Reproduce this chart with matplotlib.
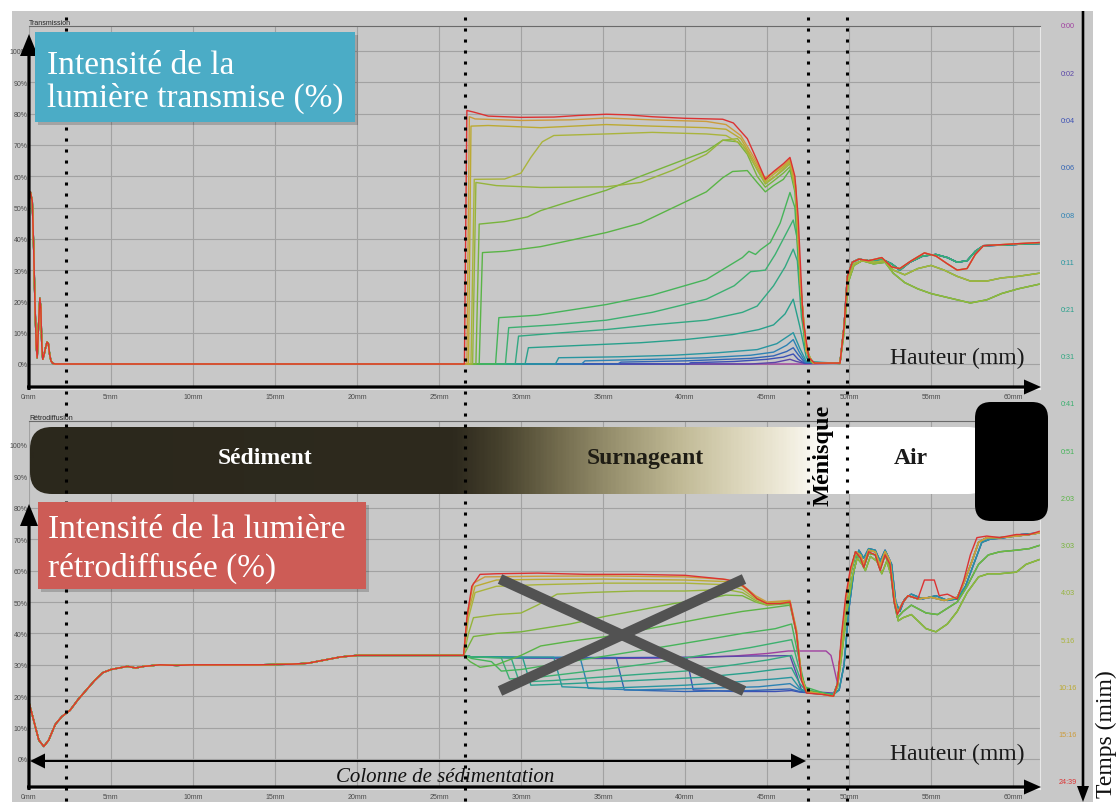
import numpy as np
import matplotlib
matplotlib.use("Agg")
import matplotlib.pyplot as plt
from matplotlib.patches import Rectangle, FancyBboxPatch, FancyArrow
from matplotlib.colors import LinearSegmentedColormap
from matplotlib.transforms import blended_transform_factory

plt.rcParams['font.family'] = ['Liberation Sans', 'DejaVu Sans']
SERIF = ['Liberation Serif', 'DejaVu Serif']

# ---------------- data ----------------
times = ["0:00", "0:02", "0:04", "0:06", "0:08", "0:11", "0:21", "0:31", "0:41",
         "0:51", "2:03", "3:03", "4:03", "5:16", "10:16", "15:16", "24:39"]
time_colors = ["#a040a0", "#5a46a8", "#3c50b4", "#3264b4", "#2d82b4", "#2896a0",
               "#28a08c", "#32a882", "#3cb070", "#46b45a", "#5ab446", "#78b43c",
               "#96b43c", "#aab43c", "#bcaa32", "#cc9c3c", "#dc3232"]
x_ticks_mm = list(range(0, 61, 5))
y_ticks_pct = list(range(0, 101, 10))
dotted_mm = [2.26, 26.59, 47.5, 49.88]

# Transmission (%) vs height (mm)
trans_left = [(0.0, 55), (0.08, 55), (0.2, 52), (0.28, 38), (0.36, 20), (0.44, 6), (0.5, 2),
              (0.58, 12), (0.66, 21), (0.72, 18), (0.78, 6), (0.84, 1.5), (0.92, 3), (1.0, 5),
              (1.1, 7), (1.18, 6.5), (1.26, 3), (1.34, 1), (1.45, 0.2), (1.6, 0), (26.55, 0)]

trans_mid = [
    [(26.55, 0), (47.5, 0), (49.45, 0.3)],
    [(26.55, 0), (44, 0), (45.5, 0.5), (46.4, 1.5), (46.8, 0.8), (47.3, 0.2), (49.45, 0.3)],
    [(26.55, 0), (40.2, 0), (40.35, 0.4), (43, 0.8), (45, 1.5), (46.0, 2.2), (46.6, 3.2), (46.9, 1.5), (47.3, 0.2), (49.45, 0.2)],
    [(26.55, 0), (35.9, 0), (36.1, 0.6), (40, 1.0), (44, 1.8), (45.4, 2.6), (46.2, 4), (46.6, 5.2), (46.9, 3), (47.3, 0.5), (49.45, 0.2)],
    [(26.55, 0), (33.7, 0), (33.9, 1.0), (38, 1.5), (41.3, 2.0), (44, 2.8), (45.4, 3.8), (46.2, 6), (46.6, 7.8), (46.95, 4), (47.35, 0.6), (49.45, 0.2)],
    [(26.55, 0), (32.1, 0), (32.3, 2.0), (36, 2.3), (39.3, 2.8), (42, 3.6), (44.4, 4.6), (45.6, 6.5), (46.6, 10), (47.0, 5), (47.4, 0.8), (49.45, 0.2)],
    [(26.55, 0), (30.25, 0), (30.45, 5.2), (33, 5.8), (37.3, 6.8), (40, 7.8), (42.9, 9.4), (44.5, 11), (45.4, 12.5), (46.1, 16), (46.6, 20.7), (47.0, 12), (47.4, 2), (47.8, 0.3), (49.45, 0.2)],
    [(26.55, 0), (29.65, 0), (29.85, 8.9), (32, 9.8), (35.2, 11), (38, 12.5), (41.3, 14), (43.5, 16.5), (44.4, 18.5), (45.4, 25), (46.1, 31), (46.6, 36.7), (46.85, 33), (47.1, 15), (47.5, 2), (47.9, 0.3), (49.45, 0.2)],
    [(26.55, 0), (29.05, 0), (29.25, 11.6), (32, 12.5), (35.2, 14), (38, 16.5), (41.3, 20.7), (43, 25), (44.0, 29.5), (44.4, 29.7), (44.9, 30), (45.5, 35), (46.1, 41), (46.6, 46), (46.85, 40), (47.1, 18), (47.5, 2.5), (47.9, 0.3), (49.45, 0.2)],
    [(26.55, 0), (28.45, 0), (28.65, 14.8), (31, 15.6), (35.2, 19), (38, 22), (41.3, 27), (43.5, 34), (43.9, 36), (44.3, 35), (44.6, 36.5), (45.2, 38.8), (45.8, 45), (46.4, 54.8), (46.7, 50), (47.0, 25), (47.3, 6), (47.7, 0.5), (49.45, 0.2)],
    [(26.55, 0), (27.45, 0), (27.65, 35.6), (29, 36), (31.2, 37.5), (33, 39.5), (35.2, 42), (37.3, 45), (39.3, 50), (41.3, 55), (42.3, 59.5), (42.9, 61.5), (43.8, 61.8), (44.4, 58), (44.9, 55), (45.4, 57), (46.0, 59), (46.4, 62), (46.7, 55), (47.0, 30), (47.3, 8), (47.7, 0.5), (49.45, 0.2)],
    [(26.55, 0), (27.25, 0), (27.45, 44.7), (29, 45.5), (30.4, 47), (31.2, 49), (33, 52), (35.2, 55.5), (37.3, 60), (39.3, 64), (41.3, 68), (42.3, 71.5), (43.2, 71), (43.8, 67), (44.4, 60), (44.9, 56.5), (45.4, 58.5), (46.0, 61), (46.4, 63), (46.75, 55), (47.05, 25), (47.4, 4), (47.8, 0.4), (49.45, 0.2)],
    [(26.55, 0), (27.05, 0), (27.25, 58), (28.5, 57), (31.2, 56.4), (35.2, 56.6), (37.3, 58), (39.3, 62), (41.3, 67), (42.3, 71.5), (43.2, 72), (43.8, 68), (44.4, 62), (44.9, 57.5), (45.4, 59.5), (46.0, 62), (46.4, 64), (46.75, 55), (47.05, 25), (47.4, 4), (47.8, 0.4), (49.45, 0.2)],
    [(26.55, 0), (26.95, 0), (27.15, 59), (29, 59.1), (30.0, 61), (30.6, 66), (31.3, 71), (32, 73), (35.2, 73.5), (38, 74), (41.3, 73.5), (42.5, 73), (43.5, 70), (44.2, 64), (44.9, 58), (45.5, 60), (46.0, 62.5), (46.4, 64.5), (46.75, 55), (47.05, 25), (47.4, 4), (47.8, 0.4), (49.45, 0.2)],
    [(26.55, 0), (26.8, 0), (26.95, 76), (28, 76.2), (31.2, 75.5), (35.2, 76.5), (38, 76), (41.3, 75.5), (42.5, 75), (43.4, 72), (44.2, 65), (44.9, 58.5), (45.5, 61), (46.0, 63), (46.4, 65), (46.75, 56), (47.05, 25), (47.4, 4), (47.8, 0.4), (49.45, 0.2)],
    [(26.55, 0), (26.7, 0), (26.85, 79), (27.2, 78.3), (30, 77.8), (33, 78), (35.2, 78.6), (38, 78), (41.3, 77.5), (42.5, 76.5), (43.4, 73), (44.2, 66), (44.85, 59.5), (45.5, 61.5), (46.0, 63.5), (46.4, 65.5), (46.75, 57), (47.05, 25), (47.4, 4), (47.8, 0.4), (49.45, 0.2)],
    [(26.55, 0), (26.7, 81), (27.1, 80.5), (28, 79.2), (30, 78.8), (32, 78.9), (33.5, 79.4), (35.2, 79.8), (36.5, 79.6), (38, 79.0), (40, 78.5), (42.3, 78.2), (42.95, 77), (43.8, 72), (44.4, 65), (44.9, 59), (45.4, 61.5), (46.0, 64), (46.4, 66), (46.7, 60), (46.9, 47), (47.2, 14), (47.55, 2), (47.9, 0.3), (49.45, 0.3)],
]

trans_tail_high = [(49.45, 0.3), (49.7, 12), (49.9, 28), (50.2, 32.5), (50.6, 33.5), (51.2, 33), (52, 33.5), (52.6, 32), (53.1, 30), (53.7, 32.5), (54.5, 34.5), (55.3, 35), (56.0, 34), (56.6, 32.5), (57.2, 33), (57.7, 36), (58.2, 37.8), (59.5, 38), (60.5, 38.3), (61.6, 38.5)]
trans_tail_dip = [(49.45, 0.3), (49.7, 12), (49.9, 28), (50.2, 32.5), (50.6, 33.5), (51.2, 33), (52, 34), (52.6, 31), (53.1, 30.5), (53.8, 33), (54.6, 35.5), (55.3, 34.5), (56.0, 32), (56.6, 30), (57.2, 30.5), (57.7, 35), (58.2, 37.8), (59.5, 38.2), (60.5, 38.5), (61.6, 38.8)]
trans_tail_mid = [(49.45, 0.3), (49.7, 12), (49.95, 27), (50.3, 32), (50.8, 33), (51.5, 32.5), (52.2, 33), (52.7, 30), (53.4, 28.5), (54.2, 30.5), (55, 31.5), (55.8, 30), (56.6, 28), (57.4, 26.5), (58.4, 26.5), (59.3, 27.5), (60.3, 28), (61.6, 29)]
trans_tail_low = [(49.45, 0.3), (49.7, 10), (49.95, 26), (50.3, 31.5), (50.8, 33), (51.5, 32), (52.2, 32.5), (52.7, 29), (53.4, 26), (54.2, 24), (55, 22.5), (55.8, 21.5), (56.6, 20.5), (57.4, 19.5), (58.4, 20.5), (59.3, 22.5), (60.3, 24), (61.6, 25.5)]
trans_tails = {"high": trans_tail_high, "dip": trans_tail_dip, "mid": trans_tail_mid, "low": trans_tail_low}
trans_tail_of = ["high", "high", "high", "high", "high", "high", "high", "mid", "high",
                 "low", "low", "mid", "low", "mid", "dip", "dip", "dip"]

# Backscattering (%) vs height (mm)
back_left = [(0, 18), (0.3, 12), (0.6, 6), (0.9, 4), (1.2, 6), (1.6, 11), (2.0, 13.5), (2.5, 15.5),
             (3.0, 19), (3.5, 22), (4.0, 25), (4.5, 27.5), (5.0, 28.5), (5.5, 29), (6, 29.5), (6.5, 29),
             (7, 29.5), (8, 30), (9, 29.8), (10, 30), (12, 30), (14, 30), (16, 30.2), (17, 30.5),
             (18, 31.5), (19, 32.5), (20, 33), (22, 33), (24, 33), (26.5, 33)]

back_mid = [
    [(26.5, 33), (27, 32.5), (30, 32.2), (35, 32), (40, 32.2), (43, 32.8), (45, 33.6), (46.3, 34.4), (48.6, 34.4), (48.9, 33), (49.1, 28.7)],
    [(26.5, 33), (27, 32.5), (30, 32.3), (35, 32.2), (40, 32.4), (44, 32.8), (46.4, 32.9), (46.8, 27), (47.1, 22), (47.6, 21.5), (49.05, 21)],
    [(26.5, 33), (27, 32.5), (30, 32.3), (35, 32.3), (40.1, 32.3), (40.5, 22), (43, 21.5), (45.5, 21.5), (46.5, 21.8), (47.0, 21.3), (49.05, 20.5)],
    [(26.5, 33), (27, 32.5), (30, 32.3), (35.8, 32.3), (36.3, 22), (40, 21.5), (44, 21.8), (46.4, 22.3), (47.0, 21.5), (49.05, 20.5)],
    [(26.5, 33), (27, 32.5), (30, 32.3), (33.6, 32.4), (34.1, 22.5), (37, 22), (41, 22.5), (44.5, 23), (46.4, 24), (47.0, 22), (49.05, 20.5)],
    [(26.5, 33), (27, 32.5), (32.0, 32.4), (32.5, 23), (35, 22.5), (40, 23.5), (43, 24.5), (45.5, 25.5), (46.5, 26), (47.0, 22.5), (47.5, 21), (49.05, 20.5)],
    [(26.5, 33), (27, 32.5), (30.1, 32.3), (30.6, 23.5), (33, 24), (37, 25), (41, 26), (44, 27.5), (45.5, 28.5), (46.5, 29), (47.0, 24), (47.5, 21), (49.05, 20.5)],
    [(26.5, 33), (27, 32.5), (29.4, 32.2), (29.9, 24.5), (32, 25), (36, 26.5), (40, 28), (43, 30), (45, 31.5), (46.5, 33), (47.0, 26), (47.5, 21), (49.05, 20.5)],
    [(26.5, 33), (27, 32.5), (28.8, 32.2), (29.3, 25.5), (31, 26), (35, 28.5), (38, 30.5), (41, 33), (44, 35.5), (45.5, 37), (46.5, 38), (46.9, 30), (47.4, 22), (49.05, 20.5)],
    [(26.5, 33), (27, 32), (28.2, 31), (28.8, 28), (30, 28.5), (33, 31), (36, 33.5), (39, 36), (41.3, 38), (43.5, 40), (45.5, 41.5), (46.5, 43), (46.9, 33), (47.3, 23), (49.05, 20)],
    [(26.5, 33), (26.9, 31), (27.5, 29.2), (28.5, 30), (30, 33), (31.2, 36), (33, 37.5), (35.2, 39), (37.3, 41), (39.3, 43), (41.3, 45), (43.5, 47), (45, 48), (46.4, 49), (46.8, 40), (47.1, 27), (47.4, 22), (49.05, 20)],
    [(26.5, 33), (26.8, 36), (27.1, 39), (28.5, 40), (30, 40.5), (31.2, 41.5), (33, 43), (35.2, 45.5), (37.3, 47.5), (39.3, 49.5), (41.3, 51), (42.5, 52.2), (43.5, 52), (44.3, 50), (45, 49), (46.4, 49.5), (46.8, 40), (47.1, 26), (47.4, 21.5), (49.05, 20)],
    [(26.5, 33), (26.8, 40), (27.1, 45), (28.5, 46), (30, 46.5), (31, 49), (32.2, 52.5), (34, 53), (37, 53.5), (40, 53.5), (42.5, 54), (43.5, 53), (44.3, 50.5), (45, 49), (46.4, 49.8), (46.8, 40), (47.1, 26), (47.4, 21.5), (49.05, 20)],
    [(26.5, 33), (26.8, 45), (27.2, 53), (28.5, 55), (31, 55.5), (35, 56), (40, 56), (42.5, 55.5), (43.5, 54), (44.3, 51), (45, 49.5), (46.4, 50), (46.8, 40), (47.1, 26), (47.4, 21.5), (49.05, 20)],
    [(26.5, 33), (26.8, 47), (27.2, 55), (28.5, 57), (31, 57.2), (35, 57.3), (40, 57), (42.5, 56.5), (43.5, 55), (44.3, 51.5), (45, 49.8), (46.4, 50.3), (46.8, 41), (47.1, 26), (47.4, 21.5), (49.05, 20)],
    [(26.5, 33), (26.75, 47), (27.1, 56), (27.8, 58), (31, 58.2), (35, 58.3), (40, 58), (42.5, 57.2), (43.5, 55.5), (44.3, 52), (45, 50), (46.4, 50.5), (46.8, 41), (47.1, 26), (47.4, 21.5), (49.05, 20)],
    [(26.5, 33), (26.7, 45), (27.0, 55), (27.5, 58.8), (28.5, 59), (31, 59.2), (34, 58.8), (37, 58.8), (40, 58.5), (42.3, 57.3), (43.2, 56.5), (43.8, 54), (44.4, 51), (45, 49.5), (45.8, 49.5), (46.4, 50), (46.8, 40), (47.1, 25), (47.4, 21), (48.5, 20.5), (49.05, 20)],
]

back_tail_high = [(49.3, 24), (49.55, 38), (49.8, 50), (50.1, 60), (50.4, 66), (50.7, 65), (50.9, 62), (51.2, 66.5), (51.6, 66), (51.9, 61.5), (52.2, 66), (52.5, 63), (52.75, 52), (52.95, 46.5), (53.3, 50), (53.6, 52), (54.2, 51), (55, 51.5), (55.8, 50.5), (56.6, 51.5), (57.0, 56), (57.5, 63), (57.9, 69), (58.4, 70.5), (59.2, 70.5), (60.2, 71), (61.0, 71.5), (61.6, 72)]
back_tail_late = [(49.4, 22), (49.7, 30), (50.0, 48), (50.3, 60), (50.6, 66.5), (50.9, 64), (51.2, 67), (51.6, 66.5), (51.9, 63), (52.2, 66.5), (52.6, 62), (52.85, 50), (53.1, 47), (53.4, 51), (53.8, 52.5), (54.5, 51), (55.3, 52), (56.0, 50.5), (56.6, 51), (57.1, 55), (57.6, 62), (58.1, 69), (58.6, 70), (59.5, 70.5), (60.5, 71.5), (61.6, 72)]
back_tail_red = [(49.3, 24), (49.55, 40), (49.8, 52), (50.1, 61), (50.4, 66), (50.7, 64), (50.9, 61), (51.2, 66), (51.6, 65), (51.9, 60), (52.2, 65), (52.5, 62), (52.75, 50), (52.95, 46), (53.3, 50), (53.6, 52), (54.2, 51), (54.6, 57), (55.2, 57), (55.5, 52), (56.0, 52.5), (56.6, 51), (57.0, 57), (57.4, 65), (57.8, 70.5), (58.4, 71), (59.2, 70.5), (60.2, 71.5), (61.0, 71.5), (61.6, 72.5)]
back_tail_mid = [(49.3, 24), (49.55, 37), (49.8, 49), (50.1, 59), (50.4, 65), (50.7, 64), (50.9, 61), (51.2, 65.5), (51.6, 65), (51.9, 60.5), (52.2, 65), (52.5, 61), (52.75, 50), (52.95, 45), (53.3, 47), (53.8, 49), (54.7, 46.5), (55.4, 46), (56.0, 48), (56.6, 50), (57.2, 55), (57.9, 62), (58.5, 65), (59.2, 66), (60.2, 66.5), (61.0, 67), (61.6, 68)]
back_tail_low = [(49.3, 23), (49.6, 35), (49.9, 48), (50.2, 58), (50.5, 64), (50.8, 62), (51.0, 60), (51.3, 64.5), (51.7, 63), (52.0, 59), (52.3, 63), (52.6, 58), (52.8, 50), (53.0, 44), (53.3, 45), (53.8, 46), (54.7, 41.5), (55.3, 40.5), (56.0, 43), (56.6, 47), (57.2, 53), (57.9, 58), (58.5, 59), (59.2, 59), (60.2, 59.5), (60.8, 62), (61.6, 63.5)]
back_tails = {"high": back_tail_high, "late": back_tail_late, "red": back_tail_red,
              "mid": back_tail_mid, "low": back_tail_low}
back_tail_of = ["high", "late", "high", "late", "high", "late", "mid", "high", "mid",
                "low", "low", "mid", "low", "high", "high", "high", "red"]

# ---------------- figure ----------------
W, H = 1117, 803
fig = plt.figure(figsize=(W / 100, H / 100), dpi=100)
fig.patch.set_facecolor('white')
GRAY = '#c8c8c8'


def fx(px):
    return px / W


def fy(py):
    return 1 - py / H


fig.add_artist(Rectangle((fx(12), fy(803)), fx(1093) - fx(12), fy(12) - fy(803),
                         transform=fig.transFigure, facecolor=GRAY, edgecolor='none', zorder=-10))

PXMM = 16.4
ax_t = fig.add_axes([fx(29), fy(390), fx(1040) - fx(29), fy(27) - fy(390)])
ax_b = fig.add_axes([fx(29), fy(790), fx(1040) - fx(29), fy(422) - fy(790)])
ax_t.set_xlim(0, (1040 - 29) / PXMM)
ax_t.set_ylim((365 - 390) / 3.13, (365 - 27) / 3.13)
ax_b.set_xlim(0, (1040 - 29) / PXMM)
ax_b.set_ylim((760 - 790) / 3.14, (760 - 422) / 3.14)

for ax in (ax_t, ax_b):
    ax.set_facecolor('none')
    ax.set_xticks(x_ticks_mm)
    ax.set_xticklabels([f"{v}mm" for v in x_ticks_mm])
    ax.set_yticks(y_ticks_pct)
    ax.set_yticklabels([f"{v}%" for v in y_ticks_pct])
    ax.tick_params(axis='x', length=0, pad=3, labelsize=5, labelcolor='#4a4a4a')
    ax.tick_params(axis='y', length=0, pad=1, labelsize=5, labelcolor='#4a4a4a')
    ax.grid(True, color='#a2a2a2', lw=0.8)
    ax.set_axisbelow(True)
    ax.spines['left'].set_visible(False)
    ax.spines['top'].set_color('#6a6a6a')
    ax.spines['top'].set_linewidth(0.8)
    ax.spines['right'].set_color('#e8e8e8')
    ax.spines['bottom'].set_color('#f0f0f0')
    ax.spines['bottom'].set_linewidth(1.2)

for i in range(len(times)):
    pts = trans_left + trans_mid[i] + trans_tails[trans_tail_of[i]]
    xs, ys = zip(*pts)
    ax_t.plot(xs, ys, color=time_colors[i], lw=1.0, zorder=2)
    pts = back_left + back_mid[i] + back_tails[back_tail_of[i]]
    xs, ys = zip(*pts)
    ax_b.plot(xs, ys, color=time_colors[i], lw=1.0, zorder=2)

ax_t.text(0.0, 1.0, "Transmission", transform=ax_t.transAxes, fontsize=5, color='#222222',
          ha='left', va='bottom')
ax_b.text(0.0, 1.0, "Rétrodiffusion", transform=ax_b.transAxes, fontsize=5, color='#222222',
          ha='left', va='bottom')

# ---------------- overlay (annotations) ----------------
ov = fig.add_axes([0, 0, 1, 1], zorder=5)
ov.set_facecolor('none')
ov.axis('off')

# gradient bar
stops = [(0.0, '#2b281c'), ((455 - 30) / 960, '#2e2a1e'), ((500 - 30) / 960, '#46412d'),
         ((560 - 30) / 960, '#736c4e'), ((620 - 30) / 960, '#9c9572'), ((680 - 30) / 960, '#c0b995'),
         ((740 - 30) / 960, '#dcd6bb'), ((790 - 30) / 960, '#f0ecdc'), ((830 - 30) / 960, '#ffffff'),
         (1.0, '#ffffff')]
cmap = LinearSegmentedColormap.from_list('bar', stops)
grad = np.linspace(0, 1, 600)[None, :]
im = ov.imshow(grad, cmap=cmap, extent=(30, 990, 495, 428), aspect='auto', zorder=2,
               interpolation='bilinear')
clip = FancyBboxPatch((30, 428), 960, 67, boxstyle='round,pad=0,rounding_size=22',
                      transform=ov.transData, fc='none', ec='none')
im.set_clip_path(clip)

ov.text(265, 459, "Sédiment", color='white', fontsize=17, fontweight='bold', family=SERIF,
        ha='center', va='center', zorder=6)
ov.text(645, 459, "Surnageant", color='#1e1c14', fontsize=17, fontweight='bold', family=SERIF,
        ha='center', va='center', zorder=6)
ov.text(911, 459, "Air", color='#1a1a1a', fontsize=17, fontweight='bold', family=SERIF,
        ha='center', va='center', zorder=6)

# dotted vertical markers
btr = blended_transform_factory(ax_t.transData, ov.transData)
for xm in dotted_mm:
    ov.plot([xm, xm], [18, 803], transform=btr, color='black', lw=2.2,
            ls=(0, (1, 2.6)), dash_capstyle='butt', zorder=3)

# gray cross
ov.plot([500, 744], [580, 692], color='#525252', lw=7.5, solid_capstyle='butt', zorder=3)
ov.plot([500, 744], [692, 580], color='#525252', lw=7.5, solid_capstyle='butt', zorder=3)


# arrows
def arrow(x0, y0, x1, y1, w, hw, hl):
    ov.add_patch(FancyArrow(x0, y0, x1 - x0, y1 - y0, width=w, head_width=hw, head_length=hl,
                            length_includes_head=True, color='black', lw=0, zorder=4))


arrow(29, 391, 29, 35, 3.2, 18, 22)
arrow(27, 388, 1041, 388, 3.2, 15, 17)
arrow(29, 791, 29, 505, 3.2, 18, 22)
arrow(27, 788, 1041, 788, 3.2, 15, 17)
arrow(420, 762, 30, 762, 2.0, 15, 15)
arrow(420, 762, 806, 762, 2.0, 15, 15)
arrow(1083, 12, 1083, 803, 2.6, 12, 16)

# label boxes
for (x0, y0, w, h, col) in [(35, 33, 320, 90, '#4bacc6'), (38, 503, 328, 87, '#cd5c56')]:
    ov.add_patch(Rectangle((x0 + 3, y0 + 3), w, h, fc='black', ec='none', alpha=0.18, zorder=5))
    ov.add_patch(Rectangle((x0, y0), w, h, fc=col, ec='none', zorder=5.5))

ov.text(47, 74, "Intensité de la", color='white', fontsize=24, family=SERIF,
        ha='left', va='baseline', zorder=6)
ov.text(47, 107, "lumière transmise (%)", color='white', fontsize=24, family=SERIF,
        ha='left', va='baseline', zorder=6)
ov.text(48, 538, "Intensité de la lumière", color='white', fontsize=24, family=SERIF,
        ha='left', va='baseline', zorder=6)
ov.text(48, 577, "rétrodiffusée (%)", color='white', fontsize=24, family=SERIF,
        ha='left', va='baseline', zorder=6)

ov.text(890, 364, "Hauteur (mm)", color='#1a1a1a', fontsize=17, family=SERIF,
        ha='left', va='baseline', zorder=6)
ov.text(890, 760, "Hauteur (mm)", color='#1a1a1a', fontsize=17, family=SERIF,
        ha='left', va='baseline', zorder=6)
ov.text(336, 782, "Colonne de sédimentation", color='#111111', fontsize=15, style='italic',
        family=SERIF, ha='left', va='baseline', zorder=6)
ov.text(1106, 734, "Temps (mim)", color='#111111', fontsize=17, family=SERIF, rotation=90,
        ha='center', va='center', zorder=6)

# black box and meniscus label
ov.add_patch(FancyBboxPatch((975, 403), 73, 119, boxstyle='round,pad=0,rounding_size=16',
                            fc='black', ec='none', zorder=7))
ov.text(823, 455, "Ménisque", color='black', fontsize=17.5, fontweight='bold', family=SERIF,
        rotation=90, ha='center', va='center', zorder=8)

# time labels
for i, (t, c) in enumerate(zip(times, time_colors)):
    ov.text(1068, 27 + i * 47.25, t, color=c, fontsize=5.2, ha='center', va='center', zorder=6)

ov.set_xlim(0, W)
ov.set_ylim(H, 0)

fig.savefig('out.png', dpi=100)
